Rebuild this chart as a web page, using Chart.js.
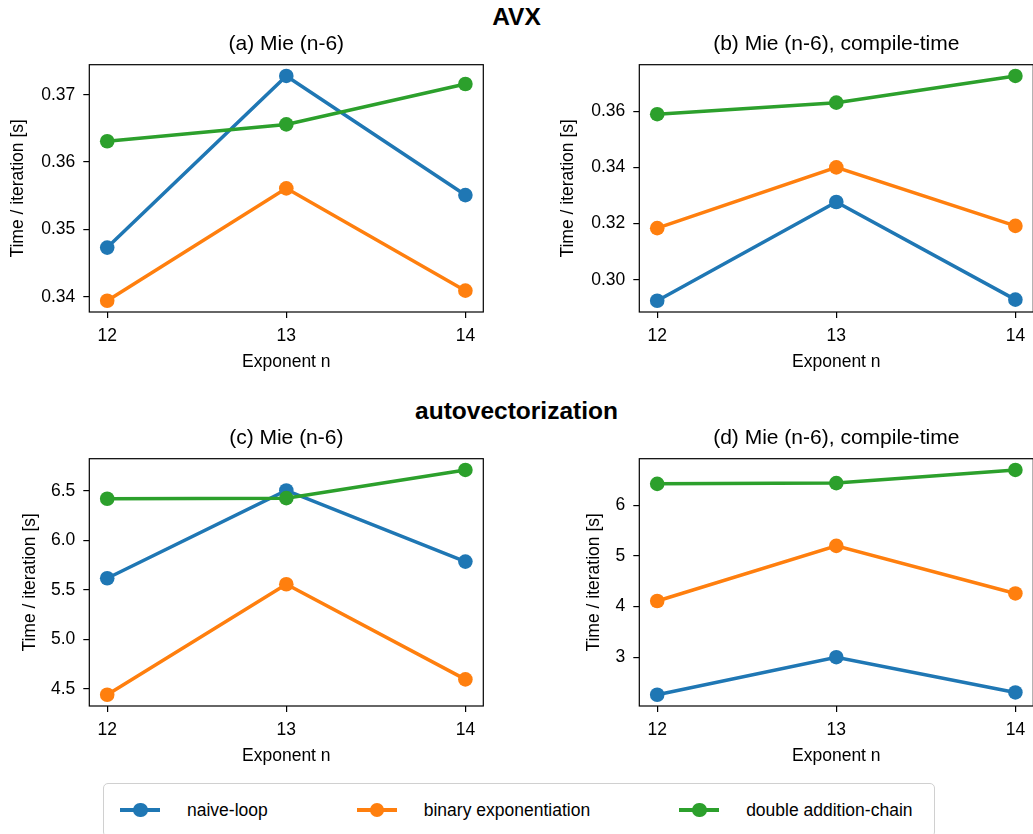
<!DOCTYPE html>
<html lang="en">
<head>
    <meta charset="UTF-8">
    <title>AVX vs autovectorization</title>
    <style>
        body {
            margin: 0;
            width: 1033px;
            height: 834px;
            background: #fff;
            position: relative;
            overflow: hidden;
            font-family: 'Liberation Sans', Arial, sans-serif;
        }

        canvas {
            position: absolute;
        }

        .suptitle {
            position: absolute;
            left: 0;
            width: 1033px;
            text-align: center;
            font-weight: bold;
            font-size: 24.5px;
            line-height: 30px;
        }

        .legend {
            position: absolute;
            left: 103px;
            top: 783px;
            width: 832px;
            height: 54px;
            box-sizing: border-box;
            border: 1px solid #d0d0d0;
            border-radius: 5px;
            display: flex;
            align-items: center;
            padding-left: 16px;
            gap: 89px;
        }

        .item {
            display: flex;
            align-items: center;
            font-size: 17.5px;
        }

        .swatch {
            position: relative;
            width: 40px;
            height: 3.5px;
            margin-right: 27px;
        }

        .swatch span {
            position: absolute;
            left: 13px;
            top: -5.5px;
            width: 14.5px;
            height: 14.5px;
            border-radius: 50%;
        }
    </style>
</head>

<body>
    <div class="suptitle" style="top:2px">AVX</div>
    <div class="suptitle" style="top:396px">autovectorization</div>

    <canvas id="avxMie" width="484" height="352" style="left:0px;top:24px"></canvas>
    <canvas id="avxCt" width="484" height="352" style="left:550px;top:24px"></canvas>
    <canvas id="autoMie" width="484" height="352" style="left:0px;top:418.3px"></canvas>
    <canvas id="autoCt" width="484" height="352" style="left:550px;top:418.3px"></canvas>

    <div class="legend" id="legend"></div>

    <script src="https://cdn.jsdelivr.net/npm/chart.js"></script>
    <script>
        // data
        const exponents = [12, 13, 14];
        const seriesNames = ['naive-loop', 'binary exponentiation', 'double addition-chain'];
        const seriesColors = ['#1f77b4', '#ff7f0e', '#2ca02c'];

        // AVX, Mie (n-6)
        const avxMieNaive = [0.3473, 0.3728, 0.3551];
        const avxMieBinary = [0.3394, 0.3561, 0.3409];
        const avxMieChain = [0.3631, 0.3656, 0.3716];
        // AVX, Mie (n-6) compile-time
        const avxCtNaive = [0.2926, 0.3277, 0.2930];
        const avxCtBinary = [0.3184, 0.3400, 0.3192];
        const avxCtChain = [0.3589, 0.3630, 0.3725];
        // autovectorization, Mie (n-6)
        const autoMieNaive = [5.616, 6.503, 5.784];
        const autoMieBinary = [4.439, 5.555, 4.594];
        const autoMieChain = [6.419, 6.425, 6.710];
        // autovectorization, Mie (n-6) compile-time
        const autoCtNaive = [2.258, 3.000, 2.304];
        const autoCtBinary = [4.111, 5.199, 4.260];
        const autoCtChain = [6.425, 6.440, 6.700];

        // tick labels
        const xTickLabels = ['12', '13', '14'];
        const avxMieTicks = ['0.34', '0.35', '0.36', '0.37'];
        const avxCtTicks = ['0.30', '0.32', '0.34', '0.36'];
        const autoMieTicks = ['4.5', '5.0', '5.5', '6.0', '6.5'];
        const autoCtTicks = ['3', '4', '5', '6'];

        Chart.defaults.font.family = "'Liberation Sans', Arial, sans-serif";
        Chart.defaults.color = '#000';

        // matplotlib-like axes box
        const framePlugin = {
            id: 'frame',
            afterDraw(chart) {
                const a = chart.chartArea;
                const ctx = chart.ctx;
                ctx.save();
                ctx.strokeStyle = '#000';
                ctx.lineWidth = 1.2;
                ctx.strokeRect(a.left, a.top, a.right - a.left, a.bottom - a.top);
                ctx.restore();
            }
        };

        // 5% margins like matplotlib
        function padRange(values) {
            const lo = Math.min(...values);
            const hi = Math.max(...values);
            const m = (hi - lo) * 0.05;
            return [lo - m, hi + m];
        }

        function makePanel(id, title, series, ticks, yTitlePad) {
            const [ymin, ymax] = padRange(series.flat());
            const datasets = series.map((vals, i) => ({
                label: seriesNames[i],
                data: exponents.map((x, j) => ({ x: x, y: vals[j] })),
                borderColor: seriesColors[i],
                backgroundColor: seriesColors[i],
                borderWidth: 3.5,
                pointRadius: 7.3,
                pointBorderWidth: 0,
                pointHoverRadius: 7.3,
                order: 3 - i,
                clip: 10
            }));
            const axisLook = {
                drawOnChartArea: false,
                drawTicks: true,
                tickLength: 6,
                color: '#000',
                lineWidth: 1.2
            };
            new Chart(document.getElementById(id), {
                type: 'line',
                data: { datasets: datasets },
                options: {
                    responsive: false,
                    animation: false,
                    layout: { autoPadding: false, padding: { left: 0, right: 0.7, top: 0, bottom: 0 } },
                    plugins: {
                        legend: { display: false },
                        tooltip: { enabled: false },
                        title: {
                            display: true,
                            text: title,
                            fullSize: false,
                            font: { size: 21, weight: 'normal' },
                            padding: { top: 7.4, bottom: 8.1 }
                        }
                    },
                    scales: {
                        x: {
                            type: 'linear',
                            min: 11.9,
                            max: 14.1,
                            grid: axisLook,
                            border: { display: false },
                            afterBuildTicks: s => { s.ticks = xTickLabels.map(t => ({ value: parseFloat(t) })); },
                            afterFit: s => { s.height = 64; s.paddingLeft = 0; s.paddingRight = 0; },
                            ticks: {
                                font: { size: 17.5 },
                                padding: 8,
                                maxRotation: 0,
                                callback: v => String(v)
                            },
                            title: {
                                display: true,
                                text: 'Exponent n',
                                font: { size: 17.5 },
                                padding: { top: 0, bottom: 3.8 }
                            }
                        },
                        y: {
                            min: ymin,
                            max: ymax,
                            grid: axisLook,
                            border: { display: false },
                            afterBuildTicks: s => { s.ticks = ticks.map(t => ({ value: parseFloat(t), label: t })); },
                            afterFit: s => { s.width = 89.3; s.paddingTop = 0; s.paddingBottom = 0; },
                            ticks: {
                                font: { size: 17.5 },
                                padding: 8,
                                callback: (v, i) => ticks[i]
                            },
                            title: {
                                display: true,
                                text: 'Time / iteration [s]',
                                font: { size: 17.5 },
                                padding: { top: yTitlePad, bottom: 0 }
                            }
                        }
                    }
                },
                plugins: [framePlugin]
            });
        }

        makePanel('avxMie', '(a) Mie (n-6)', [avxMieNaive, avxMieBinary, avxMieChain], avxMieTicks, 8);
        makePanel('avxCt', '(b) Mie (n-6), compile-time', [avxCtNaive, avxCtBinary, avxCtChain], avxCtTicks, 8);
        makePanel('autoMie', '(c) Mie (n-6)', [autoMieNaive, autoMieBinary, autoMieChain], autoMieTicks, 19.5);
        makePanel('autoCt', '(d) Mie (n-6), compile-time', [autoCtNaive, autoCtBinary, autoCtChain], autoCtTicks, 33.5);

        // shared legend
        const legend = document.getElementById('legend');
        seriesNames.forEach((name, i) => {
            const item = document.createElement('div');
            item.className = 'item';
            item.innerHTML = '<div class="swatch" style="background:' + seriesColors[i] + '"><span style="background:' +
                seriesColors[i] + '"></span></div>' + name;
            legend.appendChild(item);
        });
    </script>
</body>
</html>
